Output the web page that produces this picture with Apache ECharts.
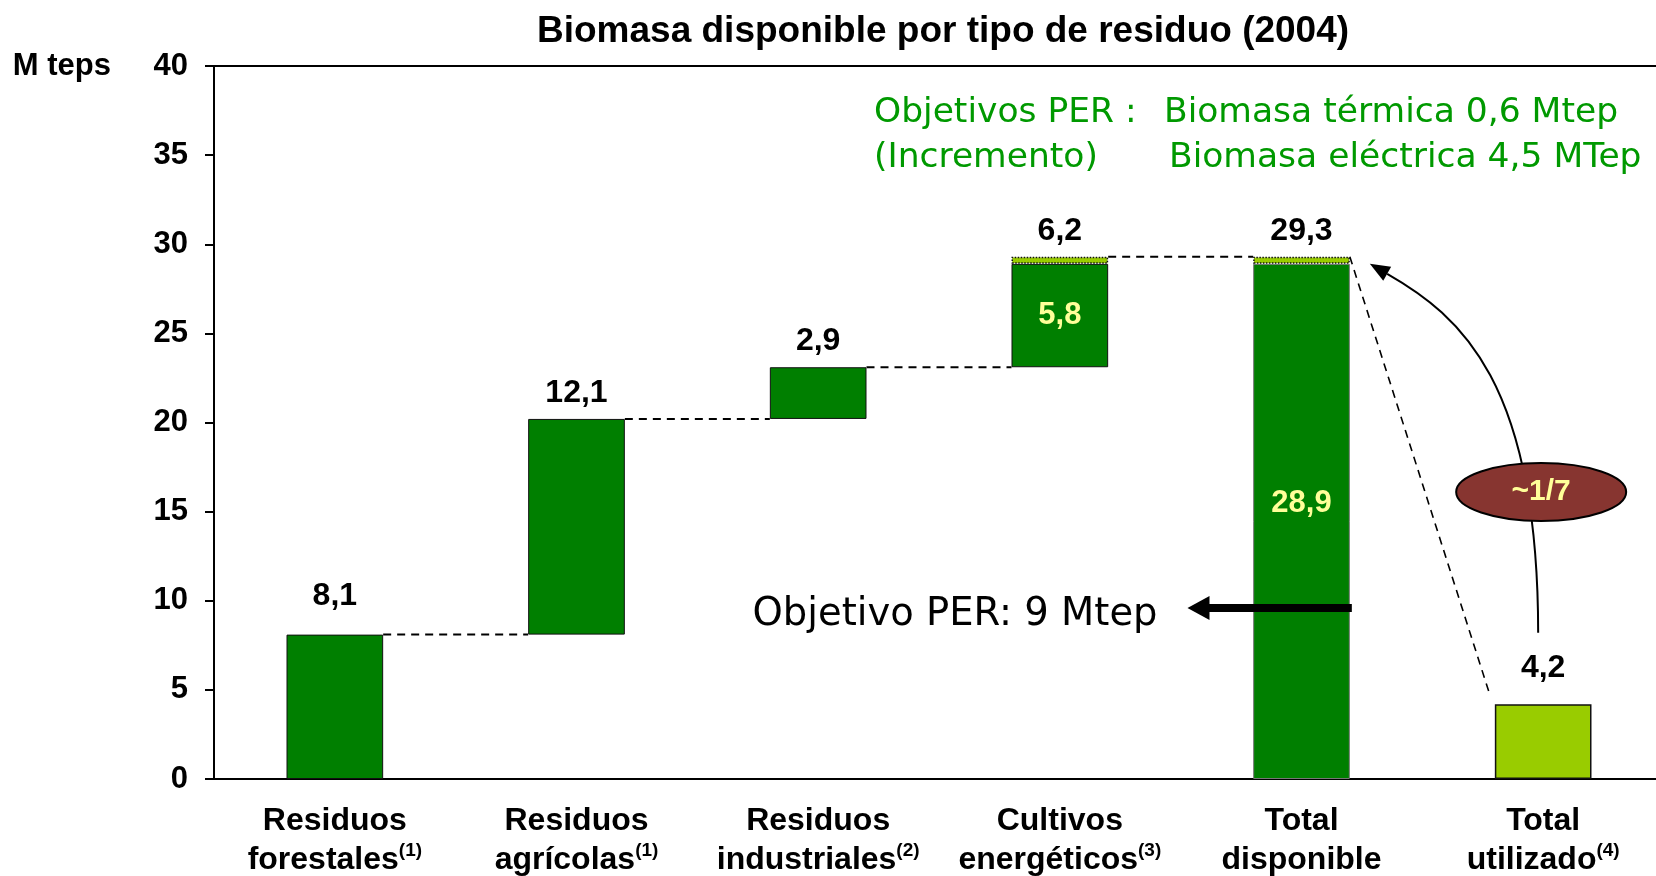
<!DOCTYPE html>
<html>
<head>
<meta charset="utf-8">
<title>Biomasa disponible por tipo de residuo (2004)</title>
<script src="https://cdn.jsdelivr.net/npm/echarts@6/dist/echarts.min.js"></script>
<style>
  html, body { margin: 0; padding: 0; background: #fff; }
  #main { width: 1656px; height: 876px; }
</style>
</head>
<body>
<div id="main"></div>
<script>
var categories = ['Residuos forestales', 'Residuos agrícolas', 'Residuos industriales',
                  'Cultivos energéticos', 'Total disponible', 'Total utilizado'];
var categoryNotes = ['(1)', '(1)', '(2)', '(3)', '', '(4)'];

// waterfall: invisible base + dark part + light (PER increment / used) part
var baseValues  = [0, 8.1, 20.2, 23.1, 0, 0];
var darkValues  = [8.1, 12.1, 2.9, 5.8, 28.9, 0];
var lightValues = [0, 0, 0, 0.4, 0.4, 4.2];
var topLabels   = ['8,1', '12,1', '2,9', '6,2', '29,3', '4,2'];
var innerLabels = ['', '', '', '5,8', '28,9', ''];

// dashed connectors: [from category, level at its right edge, level at next left edge]
var connectors = [[0, 8.1, 8.1], [1, 20.2, 20.2], [2, 23.1, 23.1], [3, 29.3, 29.3], [4, 29.3, 4.9]];

var objectiveLevel = 9.6;   // "Objetivo PER: 9 Mtep" arrow
var ratioLevel = 16.1;      // "~1/7" bubble
var curveFrom = 8.2, curveTo = 28.9;

var FONT = '"Liberation Sans", Arial, sans-serif';
var DARK = '#007f00', LIGHT = '#99cc00';

var labelGap = { 0: 22, 5: 20 };

var chart = echarts.init(document.getElementById('main'));

function topLabel(i) {
  return {
    show: true, position: 'top', distance: labelGap[i] || 10,
    formatter: topLabels[i], color: '#000', fontFamily: FONT,
    fontWeight: 'bold', fontSize: 32
  };
}

var darkData = darkValues.map(function (v, i) {
  if (!v) return '-';
  var item = { value: v };
  if (!lightValues[i]) item.label = topLabel(i);
  else if (innerLabels[i]) item.label = {
    show: true, position: 'inside', formatter: innerLabels[i],
    color: '#ffff99', fontFamily: FONT, fontWeight: 'bold', fontSize: 31,
    offset: [0, i === 4 ? -18 : 0]
  };
  if (i === 4) item.itemStyle = { borderColor: '#777' };
  return item;
});

var lightData = lightValues.map(function (v, i) {
  if (!v) return '-';
  var item = { value: v, label: topLabel(i) };
  if (!darkValues[i]) item.itemStyle = { borderType: 'solid' };
  return item;
});

function renderConnector(params, api) {
  var i = api.value(0);
  var a = api.coord([i, api.value(1)]);
  var b = api.coord([i + 1, api.value(2)]);
  var half = api.size([1, 0])[0] * 0.2;
  return {
    type: 'line',
    shape: { x1: a[0] + half, y1: a[1], x2: b[0] - half - (i === 4 ? 6 : 0), y2: b[1] },
    style: { stroke: '#000', lineWidth: i === 4 ? 1.6 : 2, lineDash: [8, 6] }
  };
}

chart.setOption({
  animation: false,
  title: {
    text: 'Biomasa disponible por tipo de residuo (2004)',
    left: 532, top: 8,
    textStyle: { fontFamily: FONT, fontWeight: 'bold', fontSize: 37, color: '#000' }
  },
  grid: {
    left: 214, right: -8, top: 66, bottom: 97,
    outerBoundsMode: 'none', containLabel: false,
    show: true, borderColor: '#000', borderWidth: 2, backgroundColor: 'transparent'
  },
  xAxis: {
    type: 'category',
    data: categories,
    axisLine: { lineStyle: { color: '#000', width: 2 } },
    axisTick: { length: 10, lineStyle: { color: '#000', width: 2 } },
    axisLabel: {
      margin: 23, interval: 0,
      formatter: function (v, i) {
        var k = v.indexOf(' ');
        var note = categoryNotes[i] ? '{s|' + categoryNotes[i] + '}' : '';
        return '{a|' + v.slice(0, k) + '}\n{a|' + v.slice(k + 1) + '}' + note;
      },
      rich: {
        a: { fontFamily: FONT, fontWeight: 'bold', fontSize: 32, lineHeight: 39, color: '#000' },
        s: { fontFamily: FONT, fontWeight: 'bold', fontSize: 19, lineHeight: 20, verticalAlign: 'top', color: '#000' }
      }
    }
  },
  yAxis: {
    type: 'value', min: 0, max: 40, interval: 5,
    name: 'M teps', nameLocation: 'end', nameGap: 0,
    nameTextStyle: {
      fontFamily: FONT, fontWeight: 'bold', fontSize: 31, color: '#000',
      align: 'right', verticalAlign: 'middle', padding: [0, 103, 0, 0]
    },
    axisLine: { show: true, lineStyle: { color: '#000', width: 2 } },
    axisTick: { show: true, length: 9, lineStyle: { color: '#000', width: 2 } },
    splitLine: { show: false },
    axisLabel: { margin: 26, fontFamily: FONT, fontWeight: 'bold', fontSize: 31, color: '#000' }
  },
  series: [
    {
      type: 'bar', stack: 'w', barWidth: '40%', data: baseValues,
      itemStyle: { color: 'transparent' }, silent: true
    },
    {
      type: 'bar', stack: 'w', data: darkData,
      itemStyle: { color: DARK, borderColor: '#111', borderWidth: 1 }
    },
    {
      type: 'bar', stack: 'w', data: lightData,
      itemStyle: { color: LIGHT, borderColor: '#111', borderWidth: 1.5, borderType: 'dotted' }
    },
    {
      type: 'custom', data: connectors, renderItem: renderConnector,
      encode: { x: 0, y: [1, 2] }, z: 3, silent: true
    }
  ]
});

// annotations anchored to the axes
function px(cat, val) { return chart.convertToPixel({ gridIndex: 0 }, [cat, val]); }
var catW = px(1, 0)[0] - px(0, 0)[0];
var half = catW * 0.2;

var objY = px(4, objectiveLevel)[1];
var objStart = px(4, 0)[0] + half + 2;
var objTip = px(4, 0)[0] - 114;

var bubble = px(5, ratioLevel);
var p0 = px(5, curveFrom); p0[0] -= 5;
var p3 = px(4, curveTo); p3[0] += half + 20;
var p1 = [p0[0], p0[1] - 250];
var p2 = [p3[0] + 91, p3[1] + 52];
var dx = p3[0] - p2[0], dy = p3[1] - p2[1], dl = Math.sqrt(dx * dx + dy * dy);
dx /= dl; dy /= dl;
var hb = [p3[0] - dx * 20, p3[1] - dy * 20];

var green = '#009900';
var SANS = '"DejaVu Sans", Verdana, sans-serif';
var GFONT = '34.5px ' + SANS;

chart.setOption({
  graphic: [
    { type: 'line', shape: { x1: objStart, y1: objY, x2: objTip + 18, y2: objY },
      style: { stroke: '#000', lineWidth: 8 }, z: 10 },
    { type: 'polygon', shape: { points: [[objTip, objY], [objTip + 22, objY - 12], [objTip + 22, objY + 12]] },
      style: { fill: '#000' }, z: 10 },
    { type: 'text', x: objTip - 30, y: objY + 7,
      style: { text: 'Objetivo PER: 9 Mtep', font: '38.5px ' + SANS, fill: '#000',
               align: 'right', verticalAlign: 'middle' }, z: 10 },
    { type: 'bezierCurve',
      shape: { x1: p0[0], y1: p0[1], cpx1: p1[0], cpy1: p1[1], cpx2: p2[0], cpy2: p2[1], x2: hb[0], y2: hb[1] },
      style: { stroke: '#000', lineWidth: 2, fill: 'none' }, z: 10 },
    { type: 'polygon',
      shape: { points: [p3, [hb[0] - dy * 8, hb[1] + dx * 8], [hb[0] + dy * 8, hb[1] - dx * 8]] },
      style: { fill: '#000' }, z: 10 },
    { type: 'ellipse', shape: { cx: bubble[0] - 2, cy: bubble[1], rx: 85, ry: 29 },
      style: { fill: '#873530', stroke: '#000', lineWidth: 2 }, z: 11 },
    { type: 'text', x: bubble[0] - 2, y: bubble[1],
      style: { text: '~1/7', font: 'bold 30px ' + FONT, fill: '#ffff99',
               align: 'center', verticalAlign: 'middle' }, z: 12 },
    { type: 'text', x: 874, y: 113,
      style: { text: 'Objetivos PER :', font: GFONT, fill: green, verticalAlign: 'middle' } },
    { type: 'text', x: 1164, y: 113,
      style: { text: 'Biomasa térmica 0,6 Mtep', font: GFONT, fill: green, verticalAlign: 'middle' } },
    { type: 'text', x: 874, y: 158,
      style: { text: '(Incremento)', font: GFONT, fill: green, verticalAlign: 'middle' } },
    { type: 'text', x: 1169, y: 158,
      style: { text: 'Biomasa eléctrica 4,5 MTep', font: GFONT, fill: green, verticalAlign: 'middle' } }
  ]
});
</script>
</body>
</html>
